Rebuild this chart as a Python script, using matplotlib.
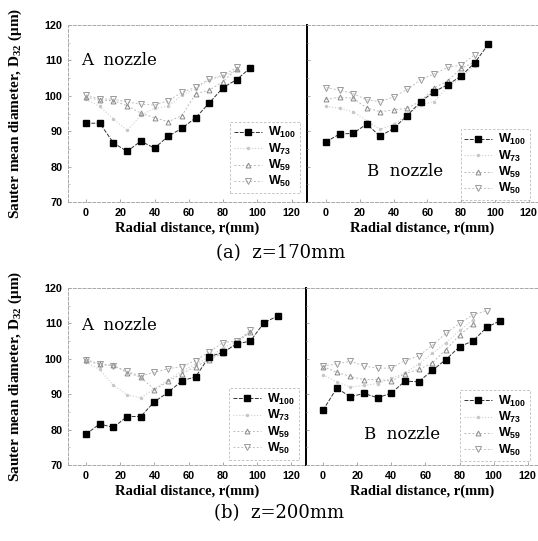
import numpy as np
import matplotlib
matplotlib.use("Agg")
from matplotlib import pyplot as plt

plt.rcParams['mathtext.default'] = 'regular'

## data (r in mm, D32 in um)
# (a) z=170mm, A nozzle
a170_x100 = [0, 8, 16, 24, 32, 40, 48, 56, 64, 72, 80, 88, 96]
a170_w100 = [92.2, 92.3, 86.7, 84.3, 87.2, 85.2, 88.6, 90.8, 93.8, 98.0, 102.3, 104.6, 107.9]
a170_x = [0, 8, 16, 24, 32, 40, 48, 56, 64, 72, 80, 88]
a170_w73 = [99.0, 97.0, 93.5, 90.2, 94.5, 96.5, 97.0, 100.2, 102.0, 104.5, 105.5, 107.2]
a170_w59 = [99.6, 98.8, 98.6, 97.2, 95.1, 93.8, 92.7, 94.4, 100.6, 101.6, 104.0, 107.6]
a170_w50 = [100.2, 99.2, 99.0, 98.3, 97.6, 97.4, 98.6, 101.0, 102.4, 104.8, 105.8, 108.0]

# (a) z=170mm, B nozzle
b170_x100 = [0, 8, 16, 24, 32, 40, 48, 56, 64, 72, 80, 88, 96]
b170_w100 = [87.0, 89.2, 89.4, 92.0, 88.6, 90.8, 94.4, 98.3, 101.2, 103.1, 105.6, 109.3, 114.5]
b170_x = [0, 8, 16, 24, 32, 40, 48, 56, 64, 72, 80, 88]
b170_w73 = [97.0, 96.5, 95.5, 93.0, 90.5, 92.0, 94.5, 97.5, 98.3, 102.5, 105.0, 108.5]
b170_w59 = [99.0, 99.6, 99.3, 96.6, 95.5, 96.0, 96.5, 98.5, 102.2, 104.2, 107.8, 109.5]
b170_w50 = [102.3, 101.6, 100.6, 98.9, 98.3, 99.7, 101.8, 104.5, 106.2, 108.0, 108.7, 111.6]

# (b) z=200mm, A nozzle
a200_x100 = [0, 8, 16, 24, 32, 40, 48, 56, 64, 72, 80, 88, 96, 104, 112]
a200_w100 = [78.7, 81.6, 80.6, 83.7, 83.7, 87.9, 90.5, 93.8, 94.9, 100.6, 101.8, 104.2, 105.0, 110.2, 112.1]
a200_x = [0, 8, 16, 24, 32, 40, 48, 56, 64, 72, 80, 88, 96]
a200_w73 = [99.0, 97.0, 92.5, 89.8, 89.0, 91.5, 94.0, 96.5, 98.5, 100.5, 103.0, 105.0, 107.5]
a200_w59 = [99.6, 98.4, 98.2, 96.1, 94.8, 91.3, 93.6, 95.8, 97.8, 99.8, 101.7, 104.5, 107.6]
a200_w50 = [99.8, 98.5, 98.0, 96.5, 95.1, 96.2, 97.2, 97.8, 99.5, 102.0, 104.6, 105.0, 108.0]

# (b) z=200mm, B nozzle
b200_x100 = [0, 8, 16, 24, 32, 40, 48, 56, 64, 72, 80, 88, 96, 104]
b200_w100 = [85.5, 91.7, 89.3, 90.2, 89.0, 90.3, 93.7, 93.5, 96.7, 99.8, 103.4, 105.1, 108.9, 110.8]
b200_x = [0, 8, 16, 24, 32, 40, 48, 56, 64, 72, 80, 88]
b200_w73 = [95.5, 93.5, 92.0, 92.5, 93.0, 94.5, 96.0, 98.5, 101.5, 104.5, 108.0, 111.0]
b200_w59 = [97.8, 96.2, 95.0, 94.1, 94.2, 93.7, 95.8, 97.0, 98.8, 102.6, 106.7, 109.8]
b200_x50 = [0, 8, 16, 24, 32, 40, 48, 56, 64, 72, 80, 88, 96]
b200_w50 = [98.0, 98.5, 99.3, 98.0, 97.3, 97.4, 99.5, 100.8, 103.8, 107.2, 110.0, 112.5, 113.5]

labels = ['W$_{100}$', 'W$_{73}$', 'W$_{59}$', 'W$_{50}$']

W = 538.0
H = 541.0


def px_rect(x0, y0, x1, y1):
    return [x0 / W, 1 - y1 / H, (x1 - x0) / W, (y1 - y0) / H]


fig = plt.figure(figsize=(5.38, 5.41), dpi=100)
fig.patch.set_facecolor('white')

tick_font = dict(family='Liberation Sans', weight='bold', size=7.8)
lab_font = dict(family='Liberation Serif', weight='bold', size=10.5)


def draw_panel(rect, xlim, x100, w100, x73, w73, x59, w59, x50, w50,
               name, name_xy, leg_anchor, left=True):
    ax = fig.add_axes(rect)
    ax.patch.set_alpha(0.0)
    ax.plot(x73, w73, linestyle=':', color='#cccccc', lw=0.8,
            marker='.', ms=3, mfc='#c8c8c8', mec='#c8c8c8')
    ax.plot(x59, w59, linestyle=(0, (2, 2)), color='#bbbbbb', lw=0.7,
            marker='^', ms=3.5, mfc='none', mec='#8a8a8a', mew=0.7)
    ax.plot(x50, w50, linestyle=(0, (2, 2)), color='#c0c0c0', lw=0.7,
            marker='v', ms=4, mfc='none', mec='#9a9a9a', mew=0.7)
    ax.plot(x100, w100, linestyle=(0, (4, 1.5)), color='#333333', lw=0.7,
            marker='s', ms=4.5, mfc='black', mec='black')
    # legend order: W100, W73, W59, W50
    h = ax.get_lines()
    leg = ax.legend([h[3], h[0], h[1], h[2]], labels, loc='lower right',
                    bbox_to_anchor=leg_anchor, frameon=True, fancybox=False,
                    prop=dict(family='Liberation Sans', weight='bold', size=9),
                    handlelength=2.2, handletextpad=0.5, labelspacing=0.1,
                    borderpad=0.3, borderaxespad=0.0)
    fr = leg.get_frame()
    fr.set_edgecolor('#aaaaaa')
    fr.set_linestyle((0, (3, 2)))
    fr.set_linewidth(0.6)

    ax.set_xlim(*xlim)
    ax.set_ylim(70, 120)
    ax.set_xticks([0, 20, 40, 60, 80, 100, 120])
    ax.set_yticks([70, 80, 90, 100, 110, 120])
    ax.set_yticks([75, 85, 95, 105, 115], minor=True)
    ax.tick_params(axis='both', direction='in', length=2.5, width=0.6,
                   color='#999999', pad=4)
    ax.tick_params(axis='y', which='minor', direction='in', length=1.5,
                   color='#bbbbbb')
    for t in ax.get_xticklabels() + ax.get_yticklabels():
        t.set_fontfamily(tick_font['family'])
        t.set_fontweight(tick_font['weight'])
        t.set_fontsize(tick_font['size'])
    if not left:
        ax.tick_params(axis='y', labelleft=False)
    for side in ['top', 'bottom', 'left', 'right']:
        ax.spines[side].set_color('#a8a8a8')
        ax.spines[side].set_linestyle((0, (3, 2)))
        ax.spines[side].set_linewidth(0.7)
    if left:
        ax.spines['right'].set_color('black')
        ax.spines['right'].set_linestyle('-')
        ax.spines['right'].set_linewidth(1.4)
        ax.spines['right'].set_zorder(5)
    else:
        ax.spines['left'].set_visible(False)
        ax.spines['right'].set_visible(False)
    ax.set_xlabel('Radial distance, r(mm)', fontdict=lab_font, labelpad=3)
    ax.text(name_xy[0], name_xy[1], name, family='DejaVu Serif',
            fontsize=12, ha='left', va='center')
    return ax


# (a) z=170mm
draw_panel(px_rect(68, 25, 307, 202), (-10.5, 129),
           a170_x100, a170_w100, a170_x, a170_w73, a170_x, a170_w59,
           a170_x, a170_w50, 'A  nozzle', (-3, 110), (0.97, 0.05), True)
draw_panel(px_rect(307, 25, 538, 202), (-11.3, 125.5),
           b170_x100, b170_w100, b170_x, b170_w73, b170_x, b170_w59,
           b170_x, b170_w50, 'B  nozzle', (24, 78.5), (0.965, 0.01), False)

# (b) z=200mm
draw_panel(px_rect(68, 288, 306, 465), (-10.5, 128.5),
           a200_x100, a200_w100, a200_x, a200_w73, a200_x, a200_w59,
           a200_x, a200_w50, 'A  nozzle', (-3, 109.5), (0.97, 0.03), True)
draw_panel(px_rect(306, 288, 538, 465), (-10, 126),
           b200_x100, b200_w100, b200_x, b200_w73, b200_x, b200_w59,
           b200_x50, b200_w50, 'B  nozzle', (24, 78.5), (0.965, 0.02), False)

ylab = 'Sauter mean diameter, D$_{32}$ (\u03bcm)'
fig.text(15 / W, 1 - 113 / H, ylab, rotation=90, ha='center', va='center',
         family='Liberation Serif', weight='bold', size=11)
fig.text(15 / W, 1 - 376 / H, ylab, rotation=90, ha='center', va='center',
         family='Liberation Serif', weight='bold', size=11)

fig.text(281 / W, 1 - 253 / H, '(a)  z=170mm', ha='center', va='center',
         family='DejaVu Serif', size=13)
fig.text(279 / W, 1 - 513 / H, '(b)  z=200mm', ha='center', va='center',
         family='DejaVu Serif', size=13)

plt.savefig('out.png', dpi=100)
